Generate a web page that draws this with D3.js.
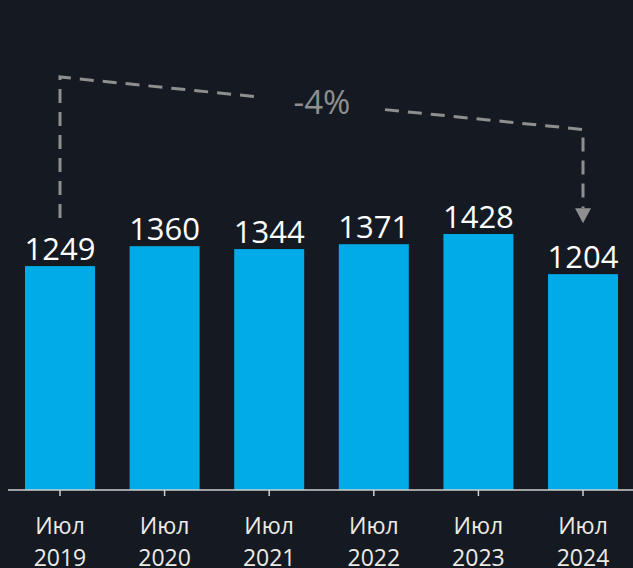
<!DOCTYPE html>
<html>
<head>
<meta charset="utf-8">
<script src="https://cdn.jsdelivr.net/npm/d3@7"></script>
<style>
  html, body { margin: 0; padding: 0; background: #151a22; }
  svg { display: block; }
</style>
</head>
<body>
<div id="chart"></div>
<script>
const months = ["Июл", "Июл", "Июл", "Июл", "Июл", "Июл"];
const years = ["2019", "2020", "2021", "2022", "2023", "2024"];
const values = [1249, 1360, 1344, 1371, 1428, 1204];
const changeLabel = "-4%";

const width = 633, height = 568;
const baseY = 490;

const svg = d3.select("#chart").append("svg")
  .attr("width", width)
  .attr("height", height);

svg.append("rect")
  .attr("width", width)
  .attr("height", height)
  .attr("fill", "#151a22");

/* scales */
const x = d3.scaleBand()
  .domain(years)
  .range([25, 618])
  .paddingInner(0.331)
  .paddingOuter(0);

const y = d3.scaleLinear()
  .domain([0, 1428])
  .range([baseY, 234]);

/* bars */
svg.selectAll(".bar")
  .data(values)
  .enter()
  .append("rect")
  .attr("class", "bar")
  .attr("x", (d, i) => x(years[i]))
  .attr("y", d => y(d))
  .attr("width", x.bandwidth())
  .attr("height", d => baseY - y(d))
  .attr("fill", "#00abe7");

/* value labels */
svg.selectAll(".val")
  .data(values)
  .enter()
  .append("text")
  .attr("x", (d, i) => x(years[i]) + x.bandwidth() / 2)
  .attr("y", d => y(d) - 6)
  .attr("text-anchor", "middle")
  .attr("font-family", "'Open Sans', sans-serif")
  .attr("font-size", 31)
  .attr("fill", "#ffffff")
  .text(d => d);

/* axis */
svg.append("line")
  .attr("x1", 8).attr("x2", width)
  .attr("y1", baseY).attr("y2", baseY)
  .attr("stroke", "#cfcfcf")
  .attr("stroke-width", 1.5);

years.forEach((yr, i) => {
  const cx = x(yr) + x.bandwidth() / 2;
  svg.append("line")
    .attr("x1", cx).attr("x2", cx)
    .attr("y1", baseY).attr("y2", baseY + 6)
    .attr("stroke", "#cfcfcf")
    .attr("stroke-width", 1.5);
  const t = svg.append("text")
    .attr("x", cx)
    .attr("text-anchor", "middle")
    .attr("font-family", "'Open Sans', sans-serif")
    .attr("font-size", 23)
    .attr("fill", "#ecebe4");
  t.append("tspan").attr("x", cx).attr("y", 534).text(months[i]);
  t.append("tspan").attr("x", cx).attr("y", 566).text(yr);
});

/* change annotation */
const x0 = x(years[0]) + x.bandwidth() / 2;
const x1 = x(years[years.length - 1]) + x.bandwidth() / 2;
const top0 = 77, top1 = 129.5;
const dashCol = "#8f8f8f";
const yAt = xx => top0 + (top1 - top0) * (xx - x0) / (x1 - x0);
const gapL = 260, gapR = 385;

const g = svg.append("g")
  .attr("fill", "none")
  .attr("stroke", dashCol)
  .attr("stroke-width", 3)
  .attr("stroke-dasharray", "14,9");

g.append("path")
  .attr("d", `M${x0},${y(values[0]) - 48}V${top0}L${gapL},${yAt(gapL)}`);
g.append("path")
  .attr("d", `M${gapR},${yAt(gapR)}L${x1},${top1}V${y(values[5]) - 66}`);

const tip = y(values[5]) - 51;
svg.append("path")
  .attr("d", `M${x1 - 8},${tip - 15}L${x1 + 8},${tip - 15}L${x1},${tip}Z`)
  .attr("fill", dashCol);

svg.append("text")
  .attr("x", 322)
  .attr("y", 114)
  .attr("text-anchor", "middle")
  .attr("font-family", "'Open Sans', sans-serif")
  .attr("font-size", 33)
  .attr("fill", dashCol)
  .text(changeLabel);
</script>
</body>
</html>
